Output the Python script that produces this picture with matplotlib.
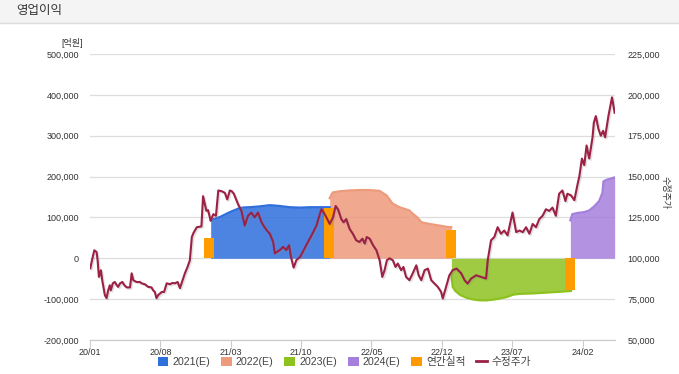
import numpy as np
import pandas as pd
import matplotlib
matplotlib.use("Agg")
import matplotlib.pyplot as plt
import matplotlib.patheffects as pe
from matplotlib.patches import Patch, Rectangle
from matplotlib.lines import Line2D
from matplotlib.ticker import FuncFormatter

plt.rcParams['font.family'] = ['Liberation Sans', 'Noto Sans CJK KR']

# 기준일 (모든 day 값은 이 날짜로부터의 일수)
base_date = pd.Timestamp("2020-01-01")

# 수정주가 (원)
price_days = [1, 6, 13, 20, 23, 27, 33, 37, 45, 50,
              55, 60, 63, 69, 75, 81, 85, 91, 98, 104,
              111, 121, 126, 131, 141, 151, 156, 166, 176, 186,
              191, 196, 201, 206, 217, 224, 232, 242, 249, 257,
              265, 272, 277, 287, 295, 302, 308, 313, 323, 337,
              342, 352, 357, 365, 373, 381, 388, 399, 408, 415,
              423, 429, 435, 448, 458, 468, 478, 488, 498, 508,
              519, 528, 535, 544, 554, 559, 574, 584, 594, 602,
              609, 616, 624, 636, 645, 654, 670, 685, 695, 700,
              707, 715, 725, 735, 743, 750, 760, 767, 775, 785,
              795, 805, 815, 824, 831, 837, 846, 856, 866, 876,
              884, 891, 898, 906, 916, 924, 931, 941, 948, 956,
              966, 976, 987, 994, 1002, 1012, 1022, 1032, 1042, 1052,
              1062, 1067, 1077, 1087, 1097, 1109, 1123, 1133, 1142, 1153,
              1168, 1183, 1198, 1203, 1208, 1213, 1223, 1233, 1243, 1253,
              1263, 1278, 1289, 1299, 1309, 1319, 1329, 1339, 1349, 1359,
              1369, 1379, 1389, 1399, 1409, 1419, 1429, 1438, 1444, 1455,
              1465, 1475, 1480, 1488, 1495, 1502, 1510, 1520, 1524, 1530,
              1538, 1545, 1552, 1558, 1568, 1579, 1587]
price_vals = [93900, 98800, 104900, 103800, 98800, 88600, 92700, 86500, 77400, 75600,
              80400, 83500, 80400, 84700, 85500, 83500, 82500, 84700, 85500, 83500,
              82200, 82200, 90800, 86500, 85500, 85500, 84700, 84100, 82500, 82200,
              80400, 79400, 75600, 77400, 79400, 79400, 84700, 84100, 84900, 84700,
              85500, 81700, 84700, 90800, 94700, 98800, 113000, 115500, 119000, 119500,
              138000, 129000, 129500, 123000, 127000, 126000, 141500, 141000, 140000, 136000,
              141500, 141000, 139500, 133000, 129000, 120000, 126000, 128000, 125000, 128000,
              122000, 119000, 117000, 115000, 110000, 103000, 105000, 107000, 105000, 108000,
              99800, 94300, 98800, 101000, 104500, 108000, 114000, 120000, 127000, 130000,
              128000, 125000, 121000, 125000, 132000, 130000, 124000, 122000, 124000, 118000,
              115000, 111000, 110000, 112000, 109000, 113000, 112000, 108000, 105000, 98800,
              88600, 92700, 98800, 100000, 98800, 94700, 96800, 92700, 94700, 88600,
              86600, 90700, 95700, 89600, 86600, 92700, 93700, 86600, 84500, 82500,
              79400, 75400, 82500, 89600, 92700, 93700, 90700, 86600, 84500, 87600,
              89600, 88600, 87600, 98800, 105000, 111000, 113000, 119000, 115000, 117000,
              114000, 128000, 116000, 117000, 116000, 119000, 115000, 121000, 119000, 124000,
              126000, 130000, 129000, 131000, 126000, 139500, 141500, 135000, 139500, 138500,
              135500, 145500, 150000, 161000, 157000, 169000, 161000, 174000, 183000, 187000,
              179000, 175000, 178000, 174000, 187000, 198500, 189000]

# 영업이익 컨센서스 (억원)
e2021_days = [365, 378, 393, 408, 423, 438, 453, 468, 483, 513, 544, 574, 604, 634, 665, 695, 725]
e2021_vals = [93000, 97000, 101000, 107000, 113000, 118000, 123000, 124500, 125000,
              127000, 130000, 128000, 125000, 124000, 125000, 125000, 125000]

e2022_days = [725, 734, 755, 785, 815, 846, 876, 885, 897, 915, 936, 966, 975, 990,
              1003, 1027, 1057, 1078, 1093]
e2022_vals = [147000, 161000, 164000, 166000, 167000, 167000, 165000, 160000, 154000,
              134000, 125000, 117000, 110000, 100000, 88000, 84000, 80000, 77000, 76000]

e2023_days = [1093, 1097, 1105, 1120, 1140, 1160, 1180, 1200, 1230, 1260, 1280, 1300,
              1340, 1380, 1420, 1455]
e2023_vals = [-40000, -70000, -80000, -90000, -97000, -101000, -103000, -103000,
              -100000, -95000, -89000, -87000, -86000, -84000, -82000, -80000]

e2024_days = [1453, 1459, 1475, 1495, 1510, 1525, 1540, 1545, 1550, 1553, 1562, 1575, 1587]
e2024_vals = [93000, 108000, 111000, 113000, 117000, 127000, 140000, 150000, 160000,
              188000, 192000, 195000, 198000]

# 연간실적 (억원)
actual_dates = ["2020-12-25", "2021-12-23", "2022-12-29", "2023-12-24"]
actual_vals = [50126, 124103, 68094, -77303]

# x축 눈금
tick_dates = pd.date_range("2020-01-01", periods=8, freq="7MS")


def to_dates(days):
    return base_date + pd.to_timedelta(days, unit="D")


fig = plt.figure(figsize=(6.79, 3.74), dpi=100)

# 상단 제목 바
fig.patches.append(Rectangle((0, 1 - 23 / 374), 1, 23 / 374, transform=fig.transFigure,
                             facecolor="#f4f4f4", edgecolor="none", zorder=0))
fig.add_artist(Line2D([0, 1], [1 - 23 / 374, 1 - 23 / 374], transform=fig.transFigure,
                      color="#dcdcdc", lw=1))
fig.text(16 / 679, 1 - 11 / 374, "영업이익", fontsize=9, color="#333333",
         ha="left", va="center")

ax = fig.add_axes([90 / 679, 34 / 374, 525 / 679, 286 / 374])
ax2 = ax.twinx()

series = [
    (e2021_days, e2021_vals, "#2f6fdc", "2021(E)"),
    (e2022_days, e2022_vals, "#ee9a7c", "2022(E)"),
    (e2023_days, e2023_vals, "#8dc21f", "2023(E)"),
    (e2024_days, e2024_vals, "#a57fdc", "2024(E)"),
]
for days, vals, col, lab in series:
    d = to_dates(days)
    ax.fill_between(d, 0, vals, color=col, alpha=0.85, lw=0, zorder=2)
    ax.plot(d, vals, color=col, lw=1.6, zorder=3)

ax.bar(pd.to_datetime(actual_dates), actual_vals, width=31, color="#ff9c00", zorder=4)

ax.set_ylim(-200000, 500000)
ax.set_yticks(np.arange(-200000, 500001, 100000))
ax.yaxis.set_major_formatter(FuncFormatter(lambda v, p: f"{int(v):,}"))
ax.grid(axis="y", color="#dddddd", lw=0.9)
ax.set_axisbelow(True)

ax.set_xlim(base_date, base_date + pd.Timedelta(days=1588))
ax.set_xticks(tick_dates)
ax.set_xticklabels([t.strftime("%y/%m") for t in tick_dates])

for a in (ax, ax2):
    for s in ("top", "left", "right"):
        a.spines[s].set_visible(False)
    a.spines["bottom"].set_color("#cccccc")
ax.tick_params(axis="y", length=0, pad=8, labelsize=6.5, labelcolor="#333333")
ax.tick_params(axis="x", length=5, color="#cccccc", pad=1, labelsize=6.5, labelcolor="#333333")

ax2.plot(to_dates(price_days), price_vals, color="#9b2145", lw=1.5, zorder=5,
         path_effects=[pe.SimpleLineShadow(offset=(1, -1), shadow_color="#888888", alpha=0.25),
                       pe.Normal()])
ax2.set_ylim(50000, 225000)
ax2.set_yticks(np.arange(50000, 225001, 25000))
ax2.yaxis.set_major_formatter(FuncFormatter(lambda v, p: f"{int(v):,}"))
ax2.tick_params(axis="y", length=0, pad=9, labelsize=6.5, labelcolor="#333333")

fig.text(83 / 679, 1 - 43 / 374, "[억원]", fontsize=6.5, color="#333333", ha="right", va="center")
fig.text(665 / 679, 1 - 193 / 374, "수정주가", fontsize=6.5, color="#333333",
         ha="center", va="center", rotation=270)

handles = [Patch(facecolor=c, label=l) for _, _, c, l in series]
handles.append(Patch(facecolor="#ff9900", label="연간실적"))
handles.append(Line2D([0], [0], color="#9b2145", lw=2, label="수정주가"))
fig.legend(handles=handles, loc="center", bbox_to_anchor=(0.507, 12 / 374), ncol=6,
           frameon=False, fontsize=7.7, handlelength=1.0, handleheight=1.0,
           handletextpad=0.4, columnspacing=1.0, labelcolor="#444444")

fig.savefig("out.png", dpi=100)
